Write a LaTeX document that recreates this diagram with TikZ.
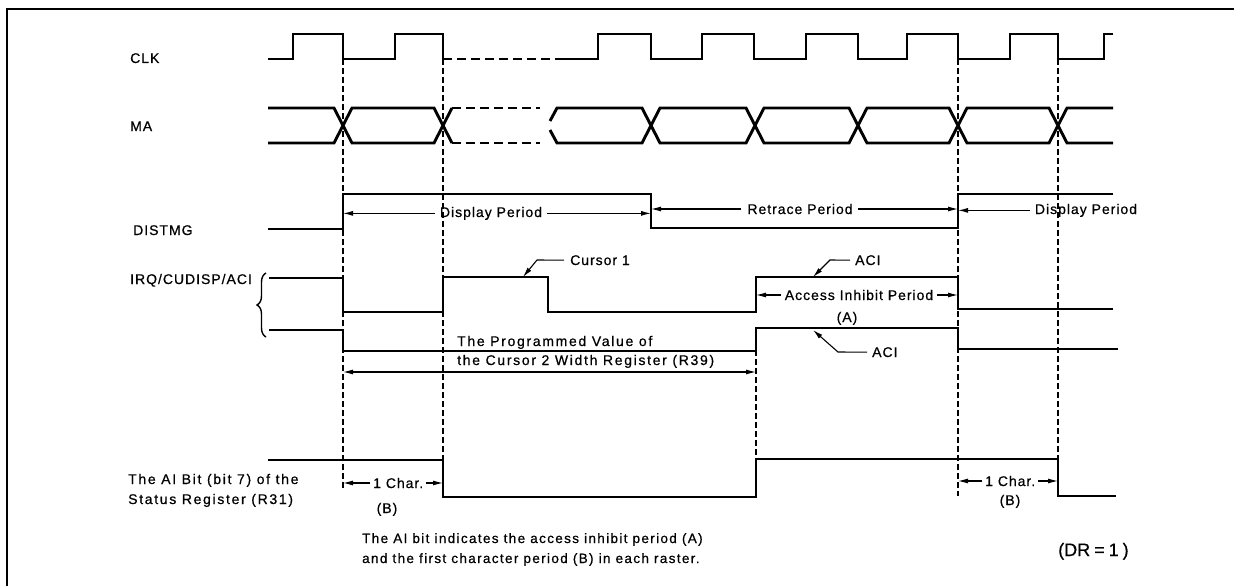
\documentclass[tikz,border=0pt]{standalone}
\usepackage{fontspec}
\setmainfont{Liberation Sans}[FakeBold=0.5]
\newfontfamily\lblfont[LetterSpace=7,FakeBold=0.6]{Liberation Sans}
\newfontfamily\lblwfont[LetterSpace=12,FakeBold=0.6]{Liberation Sans}
\newfontfamily\notefont[LetterSpace=10,FakeBold=0.6]{Liberation Sans}
\usetikzlibrary{arrows.meta,decorations.pathreplacing}
\begin{document}
\begin{tikzpicture}[x=1pt,y=-1pt,
  sig/.style={line width=2.9pt, line join=miter, line cap=butt},
  sigdash/.style={sig, dash pattern=on 9pt off 5pt},
  guide/.style={line width=1.1pt, dash pattern=on 6pt off 3pt},
  thinl/.style={line width=1.1pt},
  tip/.style={thinl, -{Latex[length=10pt,width=5pt]}},
  twotip/.style={thinl, {Latex[length=10pt,width=5pt]}-{Latex[length=10pt,width=5pt]}},
  lbl/.style={inner sep=0pt, font=\lblfont\fontsize{14}{16}\selectfont},
  lblw/.style={inner sep=0pt, font=\lblwfont\fontsize{14}{16}\selectfont},
  note/.style={inner sep=0pt, font=\notefont\fontsize{13.5}{16}\selectfont},
  big/.style={inner sep=0pt, font=\fontsize{18}{20}\selectfont}]
\useasboundingbox (0,0) rectangle (1234,586);
% frame
\draw[line width=2pt] (7,586) -- (7,9) -- (1234,9);
% boundary coordinates
\coordinate (v1) at (343,59);
\coordinate (v2) at (443,59);
\coordinate (v3) at (651,59);
\coordinate (v4) at (756,350);
\coordinate (v5) at (958,59);
\coordinate (v6) at (1058,59);
\coordinate (v1b) at (343,490);
\coordinate (v2b) at (443,460);
\coordinate (v4b) at (756,460);
\coordinate (v5b) at (958,496);
\coordinate (v6b) at (1058,460);
% dashed guides
\draw[guide] (v1) -- (v1b);
\draw[guide] (v2) -- (v2b);
\draw[guide] (v4) -- (v4b);
\draw[guide] (v5) -- (v5b);
\draw[guide] (v6) -- (v6b);
% CLK
\draw[sig] (268,59) -- (293,59) -- (293,34) -- (343,34) -- (343,59) -- (395,59) -- (395,34) -- (443,34) -- (443,59);
\draw[sigdash] (443,59) -- (557,59);
\draw[sig] (557,59) -- (598,59) -- (598,34) -- (651,34) -- (651,59) -- (702,59) -- (702,34) -- (754,34) -- (754,59) -- (806,59) -- (806,34) -- (858,34) -- (858,59) -- (907,59) -- (907,34) -- (958,34) -- (958,59) -- (1010,59) -- (1010,34) -- (1058,34) -- (1058,59) -- (1104,59) -- (1104,34) -- (1113,34);
% MA
\draw[sig] (268,108) -- (334,108) -- (352,143) -- (434,143) -- (452,108);
\draw[sig] (268,143) -- (334,143) -- (352,108) -- (434,108) -- (452,143);
\draw[sigdash] (452,108) -- (540,108);
\draw[sigdash] (452,143) -- (540,143);
\draw[sig] (550,121) -- (557,108) -- (642,108) -- (660,143) -- (746,143) -- (764,108) -- (849,108) -- (867,143) -- (949,143) -- (967,108) -- (1049,108) -- (1067,143) -- (1113,143);
\draw[sig] (550,130) -- (557,143) -- (642,143) -- (660,108) -- (746,108) -- (764,143) -- (849,143) -- (867,108) -- (949,108) -- (967,143) -- (1049,143) -- (1067,108) -- (1113,108);
% DISTMG
\draw[sig] (268,229) -- (343,229) -- (343,194) -- (651,194) -- (651,228) -- (958,228) -- (958,194) -- (1113,194);
% IRQ/CUDISP/ACI
\draw[sig] (269,278) -- (343,278) -- (343,312) -- (443,312) -- (443,277) -- (548,277) -- (548,312) -- (756,312) -- (756,277) -- (958,277) -- (958,309) -- (1113,309);
\draw[sig] (269,330) -- (343,330) -- (343,351) -- (756,351) -- (756,328) -- (958,328) -- (958,349) -- (1118,349);
\draw[line width=1.4pt, decorate, decoration={brace, amplitude=9pt}] (266,337) -- (266,273);
% AI bit
\draw[sig] (268,460) -- (443,460) -- (443,497) -- (756,497) -- (756,459) -- (1058,459) -- (1058,496) -- (1116,496);
% signal names
\node[lbl, anchor=base west] (clk) at (130,63) {CLK};
\node[lbl, anchor=base west] (ma) at (130,131) {MA};
\node[lbl, anchor=base west] (dis) at (133,235) {DISTMG};
\node[lbl, anchor=base west] (irq) at (130,284) {IRQ/CUDISP/ACI};
\node[lblw, anchor=base west] (ai1) at (128,484) {The AI Bit (bit 7) of the};
\node[lblw, anchor=base west] (ai2) at (128,504) {Status Register (R31)};
% periods
\node[lbl, anchor=base] (dp1) at (491,217) {Display Period};
\draw[tip] ([xshift=-5pt]dp1.west) -- (dp1.west -| v1);
\draw[tip] ([xshift=5pt]dp1.east) -- (dp1.east -| v3);
\node[lbl, anchor=base] (rp) at (800,214) {Retrace Period};
\draw[tip] ([xshift=-6pt]rp.west) -- (rp.west -| v3);
\draw[tip] ([xshift=5pt]rp.east) -- (rp.east -| v5);
\node[lbl, anchor=base] (dp2) at (1086,214) {Display Period};
\draw[tip] ([xshift=-5pt]dp2.west) -- (dp2.west -| v5);
% cursor 1
\node[lbl, anchor=base west] (cur) at (570,265) {Cursor 1};
\coordinate (curbend) at (537,260);
\coordinate (curtip) at (523,277);
\draw[tip] ([xshift=-6pt]cur.west) -- (curbend) -- (curtip);
% ACI upper
\node[lbl, anchor=base west] (aciu) at (855,265) {ACI};
\coordinate (aciubend) at (830,260);
\coordinate (aciutip) at (813,277);
\draw[tip] ([xshift=-5pt]aciu.west) -- (aciubend) -- (aciutip);
% access inhibit
\node[lbl, anchor=base] (aip) at (859,300) {Access Inhibit Period};
\draw[tip] ([xshift=-4pt]aip.west) -- (aip.west -| v4);
\draw[tip] ([xshift=4pt]aip.east) -- (aip.east -| v5);
\node[lbl, anchor=base] (pa) at (847,322) {(A)};
% ACI lower
\node[lbl, anchor=base west] (acil) at (872,357) {ACI};
\coordinate (acilbend) at (838,352);
\coordinate (aciltip) at (813,330);
\draw[tip] ([xshift=-5pt]acil.west) -- (acilbend) -- (aciltip);
% programmed value
\node[lblw, anchor=base west] (pv1) at (457,346) {The Programmed Value of};
\node[lblw, anchor=base west] (pv2) at (457,365) {the Cursor 2 Width Register (R39)};
\coordinate (pvl) at (343,372);
\coordinate (pvr) at (756,372);
\draw[twotip] (pvl) -- (pvr);
% 1 char left
\node[lbl, anchor=base west] (ch1) at (373,488) {1 Char.};
\node[lbl, anchor=base] (b1) at (387,513) {(B)};
\draw[tip] ([xshift=-3pt]ch1.west) -- (ch1.west -| v1);
\draw[tip] ([xshift=3pt]ch1.east) -- (ch1.east -| v2);
% 1 char right
\node[lbl, anchor=base west] (ch2) at (985,486) {1 Char.};
\node[lbl, anchor=base] (b2) at (1010,505) {(B)};
\draw[tip] ([xshift=-3pt]ch2.west) -- (ch2.west -| v5);
\draw[tip] ([xshift=3pt]ch2.east) -- (ch2.east -| v6);
% notes
\node[note, anchor=base west] (n1) at (362,543) {The AI bit indicates the access inhibit period (A)};
\node[note, anchor=base west] (n2) at (362,563) {and the first character period (B) in each raster.};
\node[big, anchor=base west] (dr) at (1058,556) {(DR\kern4pt=\kern4pt1\kern4pt)};
\end{tikzpicture}
\end{document}
